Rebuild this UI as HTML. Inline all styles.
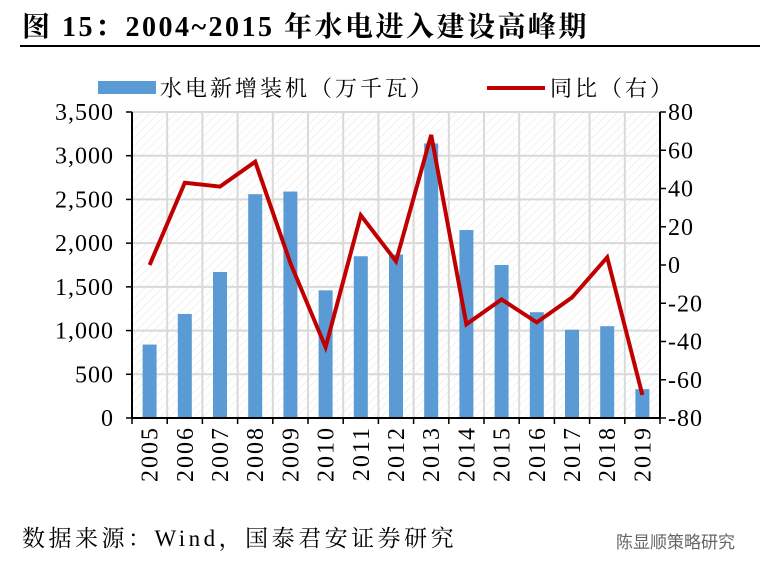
<!DOCTYPE html>
<html><head><meta charset="utf-8"><style>
body{margin:0;background:#fff;width:773px;height:576px;overflow:hidden;font-family:"Liberation Serif","Noto Serif CJK SC",serif}
</style></head><body>
<svg id="c" width="773" height="576" xmlns="http://www.w3.org/2000/svg">
<defs><pattern id="h" width="6" height="6" patternUnits="userSpaceOnUse" patternTransform="rotate(45)"><line x1="0" y1="0" x2="0" y2="6" stroke="#e4e4e4" stroke-width="1"/></pattern></defs>
<text x="22" y="36" font-size="28" font-weight="bold" letter-spacing="2.5" fill="#000">图 15：2004~2015 年水电进入建设高峰期</text>
<line x1="20" y1="46" x2="760" y2="46" stroke="#000" stroke-width="2"/>
<g>
<rect x="98" y="81" width="58" height="13" fill="#5b9bd5"/>
<text x="160" y="96" font-size="22" letter-spacing="3">水电新增装机（万千瓦）</text>
<line x1="487" y1="88" x2="545" y2="88" stroke="#c00000" stroke-width="4"/>
<text x="550" y="96" font-size="22" letter-spacing="3">同比（右）</text>
</g>
<rect x="132" y="112" width="528" height="306" fill="url(#h)"/>
<g id="grid"></g><g id="bars"></g><g id="line"></g><g id="axes"></g>
<text x="22" y="546" font-size="23" letter-spacing="3.5">数据来源：Wind，国泰君安证券研究</text>
<text x="616" y="548" font-size="17" fill="#666" font-family="Liberation Sans,Noto Sans CJK SC,sans-serif">陈显顺策略研究</text>
</svg>
<script>
const years=["2005","2006","2007","2008","2009","2010","2011","2012","2013","2014","2015","2016","2017","2018","2019"];
const capacity=[840,1190,1670,2560,2590,1460,1850,1870,3140,2150,1750,1210,1010,1050,330];
const yoy=[0,43,41,54,1,-43,26,2,68,-31,-18,-30,-17,4,-68];
const leftTicks=[0,500,1000,1500,2000,2500,3000,3500];
const rightTicks=[-80,-60,-40,-20,0,20,40,60,80];
const X0=132,X1=660,Y0=418,Y1=112,NS="http://www.w3.org/2000/svg";
const bw=(X1-X0)/years.length;
const xc=i=>X0+bw*(i+0.5);
const yl=v=>Y0-(v/3500)*(Y0-Y1);
const yr=v=>Y0-((v+80)/160)*(Y0-Y1);
function mk(t,a,p){const e=document.createElementNS(NS,t);for(const k in a)e.setAttribute(k,a[k]);p.appendChild(e);return e;}
const g=document.getElementById('grid'),b=document.getElementById('bars'),l=document.getElementById('line'),ax=document.getElementById('axes');
leftTicks.forEach(v=>{if(v>0){const e=mk('line',{x1:X0,x2:X1,y1:yl(v),y2:yl(v),stroke:'#d9d9d9','stroke-width':2},g);

}
const t=mk('text',{x:X0-18,y:yl(v)+8,'text-anchor':'end','font-size':24,'letter-spacing':1},ax);t.textContent=v.toLocaleString('en-US');


mk('line',{x1:X0-6,x2:X0,y1:yl(v),y2:yl(v),stroke:'#000','stroke-width':1.5},ax);});
rightTicks.forEach(v=>{const t=mk('text',{x:X1+8,y:yr(v)+8,'font-size':24,'letter-spacing':1},ax);t.textContent=v;


mk('line',{x1:X1,x2:X1+6,y1:yr(v),y2:yr(v),stroke:'#000','stroke-width':1.5},ax);});
years.forEach((y,i)=>{const xg=X0+bw*(i+1);
if(i<years.length-1){const e=mk('line',{x1:xg,x2:xg,y1:Y1,y2:Y0,stroke:'#d9d9d9','stroke-width':2},g);

}
mk('line',{x1:X0+bw*i,x2:X0+bw*i,y1:Y0,y2:Y0+6,stroke:'#000','stroke-width':1.5},ax);
const r=mk('rect',{x:xc(i)-7,y:yl(capacity[i]),width:14,height:Y0-yl(capacity[i]),fill:'#5b9bd5'},b);


const t=mk('text',{x:0,y:0,'font-size':24,'letter-spacing':2,'text-anchor':'end',transform:`translate(${xc(i)+8},${Y0+8}) rotate(-90)`},ax);t.textContent=y;

});
mk('line',{x1:X1,x2:X1,y1:Y0,y2:Y0+6,stroke:'#000','stroke-width':1.5},ax);
const p=mk('polyline',{points:yoy.map((v,i)=>xc(i)+','+yr(v)).join(' '),fill:'none',stroke:'#c00000','stroke-width':4,'stroke-linejoin':'miter'},l);


[[X0,Y1,X0,Y0],[X1,Y1,X1,Y0],[X0,Y0,X1,Y0]].forEach(c=>{const e=mk('line',{x1:c[0],y1:c[1],x2:c[2],y2:c[3],stroke:'#000','stroke-width':2},ax);

});
</script>
</body></html>
